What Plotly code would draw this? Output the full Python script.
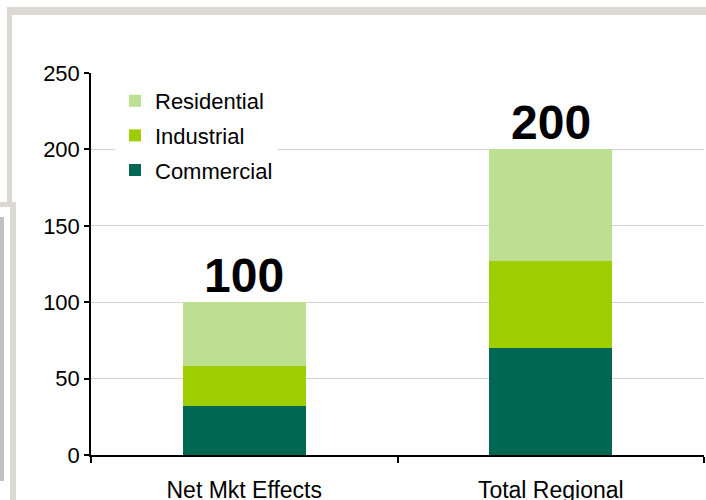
import plotly.graph_objects as go

categories = ["Net Mkt Effects", "Total Regional"]
commercial = [32, 70]
industrial = [26, 57]
residential = [42, 73]
totals = [100, 200]
series_names = ["Commercial", "Industrial", "Residential"]
legend_ranks = [3, 2, 1]
colors = ["#006753", "#9ecd00", "#bddf91"]
ytick_vals = [0, 50, 100, 150, 200, 250]

W, H = 706, 500
L, R, T, B = 91, 2, 73, 45
pw, ph = W - L - R, H - T - B


def px(x):
    return (x - L) / pw


def py(y):
    return (H - B - y) / ph


fig = go.Figure()
for name, vals, col, rk in zip(series_names, [commercial, industrial, residential], colors, legend_ranks):
    fig.add_trace(go.Bar(x=categories, y=vals, name=name, marker=dict(color=col, line=dict(width=0)),
                         legendgroup=name, legendrank=rk))

for c, t in zip(categories, totals):
    fig.add_annotation(x=c, y=t, text=f"<b>{t}</b>", showarrow=False, yanchor="bottom",
                       yshift=-2, font=dict(size=48, color="#000000", family="Arial"))

deco = "#dcd9d2"
shapes = [
    (12, 7, 706, 15, deco),
    (7, 7, 12, 203, deco),
    (0, 202, 16, 207, deco),
    (10, 202, 16, 500, deco),
    (0, 217, 4, 481, "#c0c0c0"),
]
for x0, y0, x1, y1, col in shapes:
    fig.add_shape(type="rect", xref="paper", yref="paper", x0=px(x0), x1=px(x1), y0=py(y0), y1=py(y1),
                  fillcolor=col, line=dict(width=0), layer="above")

fig.update_layout(
    width=W, height=H,
    margin=dict(l=L, r=R, t=T, b=B, pad=0, autoexpand=False),
    barmode="stack", bargap=0.6,
    plot_bgcolor="white", paper_bgcolor="white",
    font=dict(family="Arial", color="#000000", size=22),
    legend=dict(x=px(115), y=py(80), xanchor="left", yanchor="top", bgcolor="white",
                traceorder="grouped", tracegroupgap=3, font=dict(size=22)),
    xaxis=dict(showline=True, linecolor="#000000", linewidth=1.5, ticks="outside", ticklen=6,
               tickwidth=1.5, tickcolor="#000000", tickson="boundaries", tickfont=dict(size=23),
               ticklabelstandoff=14, showgrid=False, automargin=False),
    yaxis=dict(range=[0, 250], tickvals=ytick_vals, showline=True, linecolor="#000000", linewidth=1.5,
               ticks="outside", ticklen=5, tickwidth=1.5, tickcolor="#000000", gridcolor="#d3d3d3",
               gridwidth=1.2, zeroline=False, tickfont=dict(size=22), automargin=False),
)

fig.write_html("out.html", config={"displayModeBar": False},
               post_script="document.body.style.margin='0px';")
